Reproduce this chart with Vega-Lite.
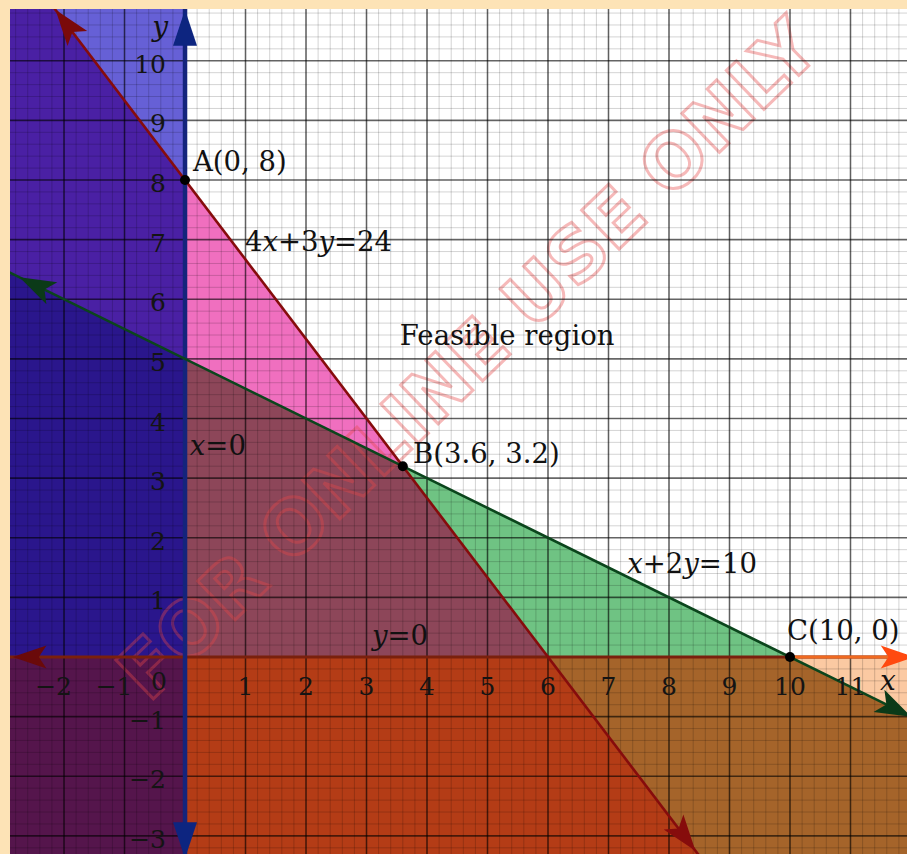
{
  "$schema": "https://vega.github.io/schema/vega-lite/v6.json",
  "width": 897,
  "height": 845,
  "autosize": {"type": "none"},
  "padding": {"left": 10, "top": 9, "right": 0, "bottom": 0},
  "background": "#fde3b6",
  "config": {"view": {"fill": "#ffffff", "stroke": null}},
  "resolve": {"scale": {"color": "independent"}},
  "datasets": {
    "regions": [
      {"region": "blue", "x": -2.151, "y": 10.868, "y2": 10.868},
      {"region": "blue", "x": 0, "y": 8, "y2": 10.868},
      {"region": "bluered", "x": -2.893, "y": 6.4465, "y2": 10.868},
      {"region": "bluered", "x": -2.151, "y": 6.0755, "y2": 10.868},
      {"region": "bluered", "x": 0, "y": 5, "y2": 8},
      {"region": "bluegreen", "x": -2.893, "y": 0, "y2": 6.4465},
      {"region": "bluegreen", "x": 0, "y": 0, "y2": 5},
      {"region": "blueall", "x": -2.893, "y": -3.304, "y2": 0},
      {"region": "blueall", "x": 0, "y": -3.304, "y2": 0},
      {"region": "pink", "x": 0, "y": 5, "y2": 8},
      {"region": "pink", "x": 3.6, "y": 3.2, "y2": 3.2},
      {"region": "mauve", "x": 0, "y": 0, "y2": 5},
      {"region": "mauve", "x": 3.6, "y": 0, "y2": 3.2},
      {"region": "mauve", "x": 6, "y": 0, "y2": 0},
      {"region": "green", "x": 3.6, "y": 3.2, "y2": 3.2},
      {"region": "green", "x": 6, "y": 0, "y2": 2},
      {"region": "green", "x": 10, "y": 0, "y2": 0},
      {"region": "orangered", "x": 0, "y": -3.304, "y2": 0},
      {"region": "orangered", "x": 6, "y": -3.304, "y2": 0},
      {"region": "orangered", "x": 8.478, "y": -3.304, "y2": -3.304},
      {"region": "brown", "x": 6, "y": 0, "y2": 0},
      {"region": "brown", "x": 8.478, "y": -3.304, "y2": 0},
      {"region": "brown", "x": 10, "y": -3.304, "y2": 0},
      {"region": "brown", "x": 11.934, "y": -3.304, "y2": -0.967},
      {"region": "peach", "x": 10, "y": 0, "y2": 0},
      {"region": "peach", "x": 11.934, "y": -0.967, "y2": 0}
    ],
    "minor": [
      {"v": -3.2}, {"v": -3}, {"v": -2.8}, {"v": -2.6}, {"v": -2.4}, {"v": -2.2}, {"v": -2}, {"v": -1.8}, {"v": -1.6}, {"v": -1.4}, {"v": -1.2}, {"v": -1}, {"v": -0.8}, {"v": -0.6}, {"v": -0.4}, {"v": -0.2}, {"v": 0},
      {"v": 0.2}, {"v": 0.4}, {"v": 0.6}, {"v": 0.8}, {"v": 1}, {"v": 1.2}, {"v": 1.4}, {"v": 1.6}, {"v": 1.8}, {"v": 2},
      {"v": 2.2}, {"v": 2.4}, {"v": 2.6}, {"v": 2.8}, {"v": 3}, {"v": 3.2}, {"v": 3.4}, {"v": 3.6}, {"v": 3.8}, {"v": 4},
      {"v": 4.2}, {"v": 4.4}, {"v": 4.6}, {"v": 4.8}, {"v": 5}, {"v": 5.2}, {"v": 5.4}, {"v": 5.6}, {"v": 5.8}, {"v": 6},
      {"v": 6.2}, {"v": 6.4}, {"v": 6.6}, {"v": 6.8}, {"v": 7}, {"v": 7.2}, {"v": 7.4}, {"v": 7.6}, {"v": 7.8}, {"v": 8},
      {"v": 8.2}, {"v": 8.4}, {"v": 8.6}, {"v": 8.8}, {"v": 9}, {"v": 9.2}, {"v": 9.4}, {"v": 9.6}, {"v": 9.8}, {"v": 10},
      {"v": 10.2}, {"v": 10.4}, {"v": 10.6}, {"v": 10.8}, {"v": 11}, {"v": 11.2}, {"v": 11.4}, {"v": 11.6}, {"v": 11.8}
    ],
    "major": [
      {"v": -3}, {"v": -2}, {"v": -1}, {"v": 0}, {"v": 1}, {"v": 2}, {"v": 3}, {"v": 4}, {"v": 5}, {"v": 6}, {"v": 7}, {"v": 8}, {"v": 9}, {"v": 10}, {"v": 11}
    ],
    "lines": [
      {"line": "r", "x": -2.5, "y": 11.3333},
      {"line": "r", "x": 9, "y": -4},
      {"line": "g", "x": -3, "y": 6.5},
      {"line": "g", "x": 12, "y": -1}
    ],
    "points": [
      {"x": 0, "y": 8},
      {"x": 3.6, "y": 3.2},
      {"x": 10, "y": 0}
    ],
    "labels": [
      {"x": 0.13, "y": 8.28, "label": "A(0, 8)"},
      {"x": 0.99, "y": 6.94, "label": "4𝑥+3𝑦=24"},
      {"x": 3.55, "y": 5.37, "label": "Feasible region"},
      {"x": 0.08, "y": 3.52, "label": "𝑥=0"},
      {"x": 3.77, "y": 3.39, "label": "B(3.6, 3.2)"},
      {"x": 7.31, "y": 1.54, "label": "𝑥+2𝑦=10"},
      {"x": 3.09, "y": 0.34, "label": "𝑦=0"},
      {"x": 9.95, "y": 0.42, "label": "C(10, 0)"}
    ],
    "axisnames": [
      {"x": 11.62, "y": -0.42, "label": "𝑥"},
      {"x": -0.41, "y": 10.55, "label": "𝑦"}
    ],
    "xticks": [
      {"v": 1, "t": "1"}, {"v": 2, "t": "2"}, {"v": 3, "t": "3"}, {"v": 4, "t": "4"}, {"v": 5, "t": "5"}, {"v": 6, "t": "6"},
      {"v": 7, "t": "7"}, {"v": 8, "t": "8"}, {"v": 9, "t": "9"}, {"v": 10, "t": "10"}, {"v": 11, "t": "11"}
    ],
    "xnegticks": [
      {"v": -2, "t": "−2"}, {"v": -1, "t": "−1"}
    ],
    "yticks": [
      {"v": -3, "t": "−3"}, {"v": -2, "t": "−2"}, {"v": -1, "t": "−1"},
      {"v": 1, "t": "1"}, {"v": 2, "t": "2"}, {"v": 3, "t": "3"}, {"v": 4, "t": "4"}, {"v": 5, "t": "5"},
      {"v": 6, "t": "6"}, {"v": 7, "t": "7"}, {"v": 8, "t": "8"}, {"v": 9, "t": "9"}, {"v": 10, "t": "10"}
    ]
  },
  "layer": [
    {
      "data": {"name": "regions"},
      "mark": {"type": "area", "clip": true, "opacity": 1},
      "encoding": {
        "x": {"field": "x", "type": "quantitative", "scale": {"domain": [-2.893, 11.934], "nice": false, "zero": false}, "axis": null},
        "y": {"field": "y", "type": "quantitative", "scale": {"domain": [-3.304, 10.868], "nice": false, "zero": false}, "axis": null, "stack": null},
        "y2": {"field": "y2"},
        "color": {
          "field": "region", "type": "nominal", "legend": null,
          "scale": {
            "domain": ["blue", "bluered", "bluegreen", "blueall", "pink", "mauve", "green", "orangered", "brown", "peach"],
            "range": ["#6660d6", "#4a20a4", "#2a168c", "#55154c", "#f06fbf", "#8d4659", "#6fc383", "#b43c16", "#a5642a", "#fbc9a2"]
          }
        }
      }
    },
    {
      "data": {"values": [{}]},
      "mark": {"type": "text", "clip": true, "angle": 316, "font": "DejaVu Sans", "fontWeight": "bold", "fontSize": 74, "align": "center", "baseline": "middle", "fill": "#ffffff", "fillOpacity": 0, "stroke": "#e84848", "strokeWidth": 3, "strokeOpacity": 0.38},
      "encoding": {
        "x": {"datum": 4.72, "type": "quantitative", "scale": {"domain": [-2.893, 11.934], "nice": false, "zero": false}, "axis": null},
        "y": {"datum": 4.95, "type": "quantitative", "scale": {"domain": [-3.304, 10.868], "nice": false, "zero": false}, "axis": null},
        "text": {"value": "FOR ONLINE USE ONLY"}
      }
    },
    {
      "data": {"name": "minor"},
      "mark": {"type": "rule", "clip": true, "color": "#000000", "strokeWidth": 0.8, "opacity": 0.22},
      "encoding": {
        "x": {"field": "v", "type": "quantitative", "scale": {"domain": [-2.893, 11.934], "nice": false, "zero": false}, "axis": null}
      }
    },
    {
      "data": {"name": "minor"},
      "mark": {"type": "rule", "clip": true, "color": "#000000", "strokeWidth": 0.8, "opacity": 0.22},
      "encoding": {
        "y": {"field": "v", "type": "quantitative", "scale": {"domain": [-3.304, 10.868], "nice": false, "zero": false}, "axis": null}
      }
    },
    {
      "data": {"name": "major"},
      "mark": {"type": "rule", "clip": true, "color": "#000000", "strokeWidth": 1.6, "opacity": 0.55},
      "encoding": {
        "x": {"field": "v", "type": "quantitative", "scale": {"domain": [-2.893, 11.934], "nice": false, "zero": false}, "axis": null}
      }
    },
    {
      "data": {"name": "major"},
      "mark": {"type": "rule", "clip": true, "color": "#000000", "strokeWidth": 1.6, "opacity": 0.55},
      "encoding": {
        "y": {"field": "v", "type": "quantitative", "scale": {"domain": [-3.304, 10.868], "nice": false, "zero": false}, "axis": null}
      }
    },
    {
      "data": {"values": [{}]},
      "mark": {"type": "rule", "clip": true, "color": "#7a200c", "strokeWidth": 3},
      "encoding": {
        "y": {"datum": 0, "type": "quantitative", "scale": {"domain": [-3.304, 10.868], "nice": false, "zero": false}, "axis": null}
      }
    },
    {
      "data": {"values": [{}]},
      "mark": {"type": "rule", "clip": true, "color": "#f06a20", "strokeWidth": 3},
      "encoding": {
        "x": {"datum": 10, "type": "quantitative", "scale": {"domain": [-2.893, 11.934], "nice": false, "zero": false}, "axis": null},
        "x2": {"datum": 11.934},
        "y": {"datum": 0, "type": "quantitative", "scale": {"domain": [-3.304, 10.868], "nice": false, "zero": false}, "axis": null}
      }
    },
    {
      "data": {"values": [{}]},
      "mark": {"type": "rule", "clip": true, "color": "#14247c", "strokeWidth": 4.5},
      "encoding": {
        "x": {"datum": 0, "type": "quantitative", "scale": {"domain": [-2.893, 11.934], "nice": false, "zero": false}, "axis": null}
      }
    },
    {
      "data": {"name": "lines"},
      "mark": {"type": "line", "clip": true, "strokeWidth": 2.6},
      "encoding": {
        "x": {"field": "x", "type": "quantitative", "scale": {"domain": [-2.893, 11.934], "nice": false, "zero": false}, "axis": null},
        "y": {"field": "y", "type": "quantitative", "scale": {"domain": [-3.304, 10.868], "nice": false, "zero": false}, "axis": null},
        "color": {"field": "line", "type": "nominal", "legend": null, "scale": {"domain": ["r", "g"], "range": ["#860c0c", "#0b451c"]}}
      }
    },
    {
      "data": {"values": [{}]},
      "mark": {"type": "point", "clip": true, "filled": true, "opacity": 1, "size": 1700, "color": "#7a0a0a", "angle": 322.7, "shape": "M0,-1L0.6,0.75L0,0.35L-0.6,0.75Z"},
      "encoding": {
        "x": {"datum": -1.934, "type": "quantitative", "scale": {"domain": [-2.893, 11.934], "nice": false, "zero": false}, "axis": null},
        "y": {"datum": 10.58, "type": "quantitative", "scale": {"domain": [-3.304, 10.868], "nice": false, "zero": false}, "axis": null}
      }
    },
    {
      "data": {"values": [{}]},
      "mark": {"type": "point", "clip": true, "filled": true, "opacity": 1, "size": 1700, "color": "#860c0c", "angle": 142.7, "shape": "M0,-1L0.6,0.75L0,0.35L-0.6,0.75Z"},
      "encoding": {
        "x": {"datum": 8.23, "type": "quantitative", "scale": {"domain": [-2.893, 11.934], "nice": false, "zero": false}, "axis": null},
        "y": {"datum": -2.973, "type": "quantitative", "scale": {"domain": [-3.304, 10.868], "nice": false, "zero": false}, "axis": null}
      }
    },
    {
      "data": {"values": [{}]},
      "mark": {"type": "point", "clip": true, "filled": true, "opacity": 1, "size": 1700, "color": "#0b3a18", "angle": 296.2, "shape": "M0,-1L0.6,0.75L0,0.35L-0.6,0.75Z"},
      "encoding": {
        "x": {"datum": -2.43, "type": "quantitative", "scale": {"domain": [-2.893, 11.934], "nice": false, "zero": false}, "axis": null},
        "y": {"datum": 6.215, "type": "quantitative", "scale": {"domain": [-3.304, 10.868], "nice": false, "zero": false}, "axis": null}
      }
    },
    {
      "data": {"values": [{}]},
      "mark": {"type": "point", "clip": true, "filled": true, "opacity": 1, "size": 1700, "color": "#0b3a18", "angle": 116.2, "shape": "M0,-1L0.6,0.75L0,0.35L-0.6,0.75Z"},
      "encoding": {
        "x": {"datum": 11.7, "type": "quantitative", "scale": {"domain": [-2.893, 11.934], "nice": false, "zero": false}, "axis": null},
        "y": {"datum": -0.85, "type": "quantitative", "scale": {"domain": [-3.304, 10.868], "nice": false, "zero": false}, "axis": null}
      }
    },
    {
      "data": {"values": [{}]},
      "mark": {"type": "point", "clip": true, "filled": true, "opacity": 1, "size": 1600, "color": "#0d2580", "angle": 0, "shape": "M0,-1L0.6,0.8L-0.6,0.8Z"},
      "encoding": {
        "x": {"datum": 0, "type": "quantitative", "scale": {"domain": [-2.893, 11.934], "nice": false, "zero": false}, "axis": null},
        "y": {"datum": 10.52, "type": "quantitative", "scale": {"domain": [-3.304, 10.868], "nice": false, "zero": false}, "axis": null}
      }
    },
    {
      "data": {"values": [{}]},
      "mark": {"type": "point", "clip": true, "filled": true, "opacity": 1, "size": 1600, "color": "#0d2580", "angle": 180, "shape": "M0,-1L0.6,0.8L-0.6,0.8Z"},
      "encoding": {
        "x": {"datum": 0, "type": "quantitative", "scale": {"domain": [-2.893, 11.934], "nice": false, "zero": false}, "axis": null},
        "y": {"datum": -3.04, "type": "quantitative", "scale": {"domain": [-3.304, 10.868], "nice": false, "zero": false}, "axis": null}
      }
    },
    {
      "data": {"values": [{}]},
      "mark": {"type": "point", "clip": true, "filled": true, "opacity": 1, "size": 1500, "color": "#6a0a0a", "angle": 270, "shape": "M0,-1L0.6,0.75L0,0.35L-0.6,0.75Z"},
      "encoding": {
        "x": {"datum": -2.53, "type": "quantitative", "scale": {"domain": [-2.893, 11.934], "nice": false, "zero": false}, "axis": null},
        "y": {"datum": 0, "type": "quantitative", "scale": {"domain": [-3.304, 10.868], "nice": false, "zero": false}, "axis": null}
      }
    },
    {
      "data": {"values": [{}]},
      "mark": {"type": "point", "clip": true, "filled": true, "opacity": 1, "size": 1500, "color": "#ff4a10", "angle": 90, "shape": "M0,-1L0.6,0.75L0,0.35L-0.6,0.75Z"},
      "encoding": {
        "x": {"datum": 11.74, "type": "quantitative", "scale": {"domain": [-2.893, 11.934], "nice": false, "zero": false}, "axis": null},
        "y": {"datum": 0, "type": "quantitative", "scale": {"domain": [-3.304, 10.868], "nice": false, "zero": false}, "axis": null}
      }
    },
    {
      "data": {"name": "points"},
      "mark": {"type": "circle", "clip": true, "size": 100, "color": "#000000", "opacity": 1},
      "encoding": {
        "x": {"field": "x", "type": "quantitative", "scale": {"domain": [-2.893, 11.934], "nice": false, "zero": false}, "axis": null},
        "y": {"field": "y", "type": "quantitative", "scale": {"domain": [-3.304, 10.868], "nice": false, "zero": false}, "axis": null}
      }
    },
    {
      "data": {"name": "labels"},
      "mark": {"type": "text", "clip": true, "align": "left", "baseline": "middle", "font": "DejaVu Serif", "fontSize": 27.5, "color": "#111111"},
      "encoding": {
        "x": {"field": "x", "type": "quantitative", "scale": {"domain": [-2.893, 11.934], "nice": false, "zero": false}, "axis": null},
        "y": {"field": "y", "type": "quantitative", "scale": {"domain": [-3.304, 10.868], "nice": false, "zero": false}, "axis": null},
        "text": {"field": "label", "type": "nominal"}
      }
    },
    {
      "data": {"name": "axisnames"},
      "mark": {"type": "text", "clip": true, "align": "center", "baseline": "middle", "font": "DejaVu Serif", "fontSize": 28, "color": "#111111"},
      "encoding": {
        "x": {"field": "x", "type": "quantitative", "scale": {"domain": [-2.893, 11.934], "nice": false, "zero": false}, "axis": null},
        "y": {"field": "y", "type": "quantitative", "scale": {"domain": [-3.304, 10.868], "nice": false, "zero": false}, "axis": null},
        "text": {"field": "label", "type": "nominal"}
      }
    },
    {
      "data": {"name": "xticks"},
      "mark": {"type": "text", "clip": true, "align": "center", "baseline": "middle", "dy": 30, "font": "DejaVu Serif", "fontSize": 25, "color": "#141414"},
      "encoding": {
        "x": {"field": "v", "type": "quantitative", "scale": {"domain": [-2.893, 11.934], "nice": false, "zero": false}, "axis": null},
        "y": {"datum": 0, "type": "quantitative", "scale": {"domain": [-3.304, 10.868], "nice": false, "zero": false}, "axis": null},
        "text": {"field": "t", "type": "nominal"}
      }
    },
    {
      "data": {"name": "xnegticks"},
      "mark": {"type": "text", "clip": true, "align": "right", "baseline": "middle", "dx": 8, "dy": 30, "font": "DejaVu Serif", "fontSize": 25, "color": "#141414"},
      "encoding": {
        "x": {"field": "v", "type": "quantitative", "scale": {"domain": [-2.893, 11.934], "nice": false, "zero": false}, "axis": null},
        "y": {"datum": 0, "type": "quantitative", "scale": {"domain": [-3.304, 10.868], "nice": false, "zero": false}, "axis": null},
        "text": {"field": "t", "type": "nominal"}
      }
    },
    {
      "data": {"values": [{}]},
      "mark": {"type": "text", "clip": true, "align": "right", "baseline": "middle", "dx": -18, "dy": 25, "font": "DejaVu Serif", "fontSize": 25, "color": "#141414"},
      "encoding": {
        "x": {"datum": 0, "type": "quantitative", "scale": {"domain": [-2.893, 11.934], "nice": false, "zero": false}, "axis": null},
        "y": {"datum": 0, "type": "quantitative", "scale": {"domain": [-3.304, 10.868], "nice": false, "zero": false}, "axis": null},
        "text": {"value": "0"}
      }
    },
    {
      "data": {"name": "yticks"},
      "mark": {"type": "text", "clip": true, "align": "right", "baseline": "middle", "dx": -19, "dy": 4, "font": "DejaVu Serif", "fontSize": 25, "color": "#141414"},
      "encoding": {
        "x": {"datum": 0, "type": "quantitative", "scale": {"domain": [-2.893, 11.934], "nice": false, "zero": false}, "axis": null},
        "y": {"field": "v", "type": "quantitative", "scale": {"domain": [-3.304, 10.868], "nice": false, "zero": false}, "axis": null},
        "text": {"field": "t", "type": "nominal"}
      }
    }
  ]
}
